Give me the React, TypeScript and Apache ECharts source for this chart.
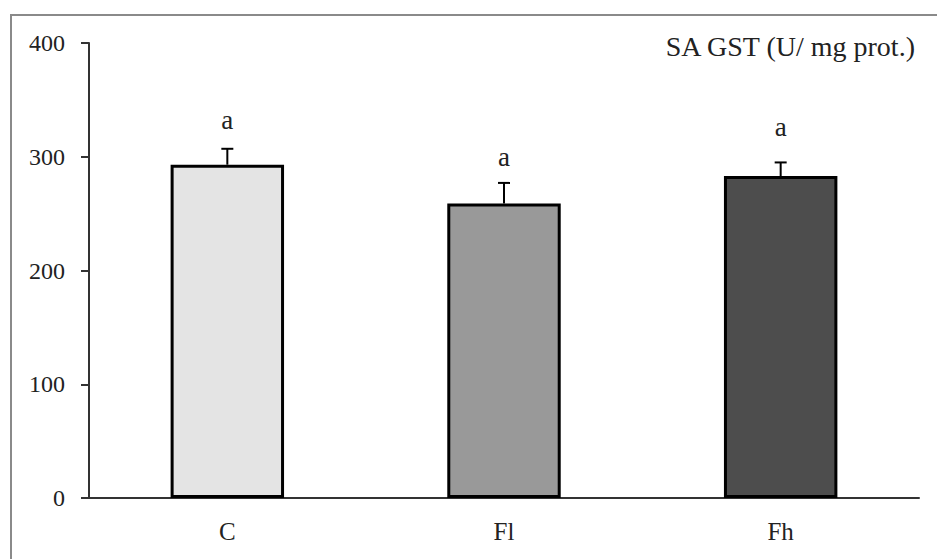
import React, { useEffect, useRef } from "react";
import * as echarts from "echarts";

const categories = ["C", "Fl", "Fh"];
const means = [293, 259, 283];
const errors = [14, 18, 12];
const letters = ["a", "a", "a"];
const letterPos = [332, 300, 326];
const barColors = ["#e4e4e4", "#999999", "#4d4d4d"];
const yTicks = [0, 100, 200, 300, 400];
const title = "SA GST (U/ mg prot.)";

export default function App() {
  const ref = useRef<HTMLDivElement>(null);
  useEffect(() => {
    if (!ref.current) return;
    const chart = echarts.init(ref.current, null, { renderer: "svg" });
    const font = "'Liberation Serif', 'Times New Roman', serif";
    chart.setOption({
      animation: false,
      backgroundColor: "#ffffff",
      graphic: [
        {
          type: "rect",
          shape: { x: 11, y: 15, width: 940, height: 560 },
          style: { fill: "none", stroke: "#8a8a8a", lineWidth: 2 },
          z: -1,
        },
        {
          type: "text",
          right: 20,
          top: 32,
          style: { text: title, fontSize: 28, fontFamily: font, fill: "#222" },
        },
      ],
      grid: { left: 89, right: 18, top: 43, bottom: 61 },
      xAxis: {
        type: "category",
        data: categories,
        axisLine: { lineStyle: { color: "#333", width: 2 } },
        axisTick: { show: false },
        axisLabel: { color: "#222", fontFamily: font, fontSize: 25, margin: 21 },
      },
      yAxis: {
        type: "value",
        min: yTicks[0],
        max: yTicks[yTicks.length - 1],
        interval: 100,
        splitLine: { show: false },
        axisLine: { show: true, lineStyle: { color: "#333", width: 2 } },
        axisTick: { show: true, length: 8, lineStyle: { color: "#333", width: 2 } },
        axisLabel: { color: "#222", fontFamily: font, fontSize: 24, margin: 24 },
      },
      series: [
        {
          type: "bar",
          data: means.map((v, i) => ({ value: v, itemStyle: { color: barColors[i] } })),
          barWidth: "41%",
          itemStyle: { borderColor: "#000", borderWidth: 3 },
          z: 3,
        },
        {
          type: "custom",
          data: means.map((v, i) => [i, v, errors[i]]),
          z: 2,
          renderItem: (params: any, api: any) => {
            const i = api.value(0);
            const v = api.value(1);
            const e = api.value(2);
            const p0 = api.coord([i, v]);
            const p1 = api.coord([i, v + e]);
            return {
              type: "group",
              children: [
                { type: "line", shape: { x1: p0[0], y1: p0[1], x2: p1[0], y2: p1[1] }, style: { stroke: "#000", lineWidth: 2 } },
                { type: "line", shape: { x1: p1[0] - 6, y1: p1[1], x2: p1[0] + 6, y2: p1[1] }, style: { stroke: "#000", lineWidth: 2 } },
              ],
            };
          },
        },
        {
          type: "custom",
          data: letterPos.map((v, i) => [i, v]),
          z: 4,
          renderItem: (params: any, api: any) => {
            const p = api.coord([api.value(0), api.value(1)]);
            return {
              type: "text",
              x: p[0],
              y: p[1],
              style: {
                text: letters[params.dataIndex],
                fontSize: 27,
                fontFamily: font,
                fill: "#222",
                align: "center",
                verticalAlign: "middle",
              },
            };
          },
        },
      ],
    });
    return () => chart.dispose();
  }, []);
  return (
    <div
      ref={ref}
      style={{ position: "fixed", left: 0, top: 0, width: 937, height: 559, background: "#fff" }}
    />
  );
}
